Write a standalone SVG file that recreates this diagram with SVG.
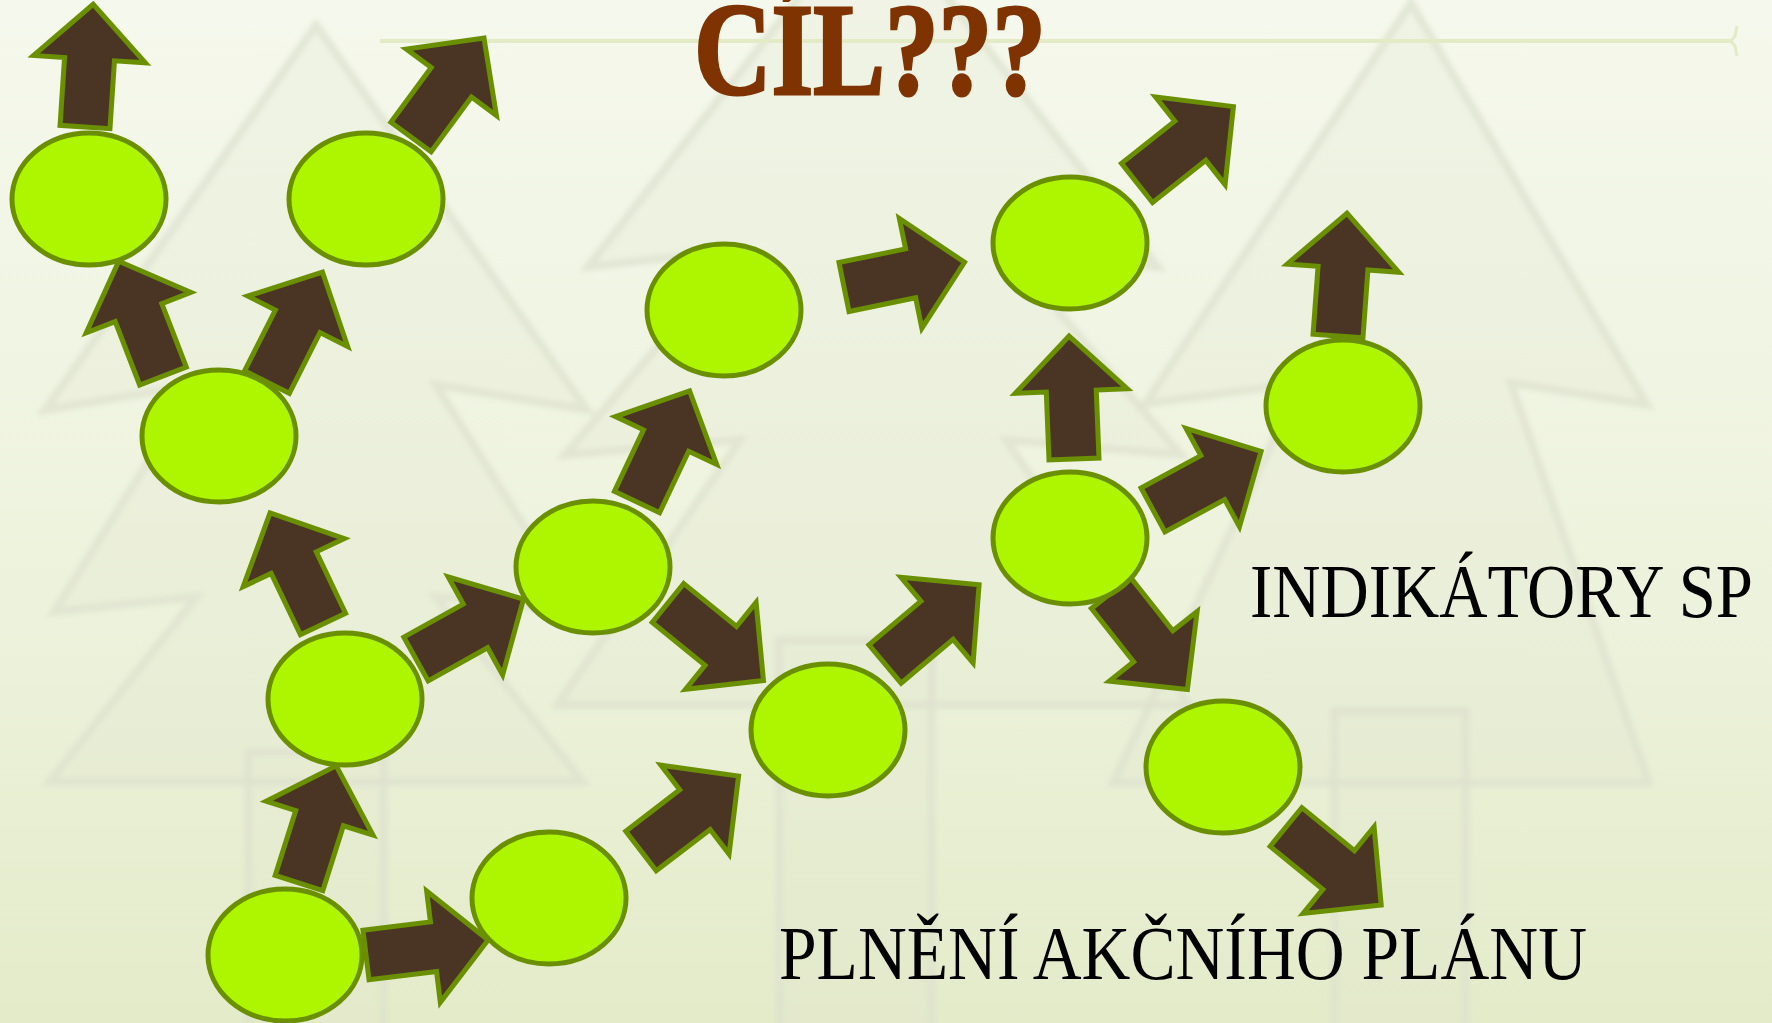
<svg xmlns="http://www.w3.org/2000/svg" xmlns:xlink="http://www.w3.org/1999/xlink" width="1772" height="1023" viewBox="0 0 1772 1023">
  <defs>
    <linearGradient id="bg" x1="0" y1="0" x2="0" y2="1">
      <stop offset="0" stop-color="#f5f8ec"/>
      <stop offset="0.6" stop-color="#edf2dc"/>
      <stop offset="1" stop-color="#e4ebc9"/>
    </linearGradient>
    <filter id="soft" x="-5%" y="-5%" width="110%" height="110%">
      <feGaussianBlur stdDeviation="2.5"/>
    </filter>
    <path id="arr" d="M0,-25 H68 V-56 L123,0 L68,56 V25 H0 Z"/>
  </defs>
  <style>
    .tree { fill: #dfe4cc; fill-opacity: 0.22; stroke: #dde2cf; stroke-opacity: 0.75; stroke-width: 8; stroke-linejoin: miter; }
    .node { fill: #adf600; stroke: #6a9000; stroke-width: 5; }
    .arrow { fill: #4a3524; stroke: #6a9000; stroke-width: 5; stroke-linejoin: miter; }
    .lbl { font-family: "Liberation Serif", "DejaVu Serif", serif; fill: #000000; }
    .title { font-family: "Liberation Serif", "DejaVu Serif", serif; font-weight: bold; fill: #7f3300; stroke: #7f3300; stroke-width: 3; }
  </style>

  <rect x="0" y="0" width="1772" height="1023" fill="url(#bg)"/>

  <g id="background-trees" filter="url(#soft)">
    <path class="tree" d="M316,25 L45,410 L196,385 L54,612 L196,597 L49,782 L583,782 L436,597 L578,612 L436,385 L587,410 Z"/>
    <rect class="tree" x="248" y="752" width="136" height="290"/>
    <path class="tree" d="M873,-98 L588,267 L740,250 L565,455 L740,440 L557,705 L1190,705 L1006,440 L1181,455 L1006,250 L1158,267 Z"/>
    <rect class="tree" x="779" y="640" width="153" height="400"/>
    <path class="tree" d="M1411,3 L1145,404 L1300,383 L1113,783 L1649,783 L1511,383 L1647,405 Z"/>
    <rect class="tree" x="1334" y="711" width="132" height="330"/>
  </g>
  <g id="top-rule">
    <path d="M380,41 H1731" stroke="#e3ebc6" stroke-width="4" fill="none"/>
    <path d="M1737,26 L1735,36 L1731,41 L1735,46 L1737,56" stroke="#e3ebc6" stroke-width="3" fill="none"/>
  </g>

  <g id="connectors">
    <use xlink:href="#arr" href="#arr" class="arrow" transform="translate(85,127) rotate(-86.2)"/>
    <use xlink:href="#arr" href="#arr" class="arrow" transform="translate(411,137) rotate(-53.6)"/>
    <use xlink:href="#arr" href="#arr" class="arrow" transform="translate(163,376) rotate(-111.1)"/>
    <use xlink:href="#arr" href="#arr" class="arrow" transform="translate(267,382) rotate(-63.2)"/>
    <use xlink:href="#arr" href="#arr" class="arrow" transform="translate(323,624) rotate(-115.5)"/>
    <use xlink:href="#arr" href="#arr" class="arrow" transform="translate(416,659) rotate(-29.1)"/>
    <use xlink:href="#arr" href="#arr" class="arrow" transform="translate(637,502) rotate(-64.7)"/>
    <use xlink:href="#arr" href="#arr" class="arrow" transform="translate(844,287) rotate(-11.6)"/>
    <use xlink:href="#arr" href="#arr" class="arrow" transform="translate(1137,183) rotate(-38.4)"/>
    <use xlink:href="#arr" href="#arr" class="arrow" transform="translate(1074,459) rotate(-92.3)"/>
    <use xlink:href="#arr" href="#arr" class="arrow" transform="translate(1338,336) rotate(-85.8)"/>
    <use xlink:href="#arr" href="#arr" class="arrow" transform="translate(1153,510) rotate(-28.5)"/>
    <use xlink:href="#arr" href="#arr" class="arrow" transform="translate(1111,593) rotate(51.6)"/>
    <use xlink:href="#arr" href="#arr" class="arrow" transform="translate(1286,827) rotate(39.3)"/>
    <use xlink:href="#arr" href="#arr" class="arrow" transform="translate(668,603) rotate(39.1)"/>
    <use xlink:href="#arr" href="#arr" class="arrow" transform="translate(885,664) rotate(-40.1)"/>
    <use xlink:href="#arr" href="#arr" class="arrow" transform="translate(641,851) rotate(-37.5)"/>
    <use xlink:href="#arr" href="#arr" class="arrow" transform="translate(299,883) rotate(-72.4)"/>
    <use xlink:href="#arr" href="#arr" class="arrow" transform="translate(366,955) rotate(-7.0)"/>
  </g>

  <g id="node-a"><ellipse class="node" cx="89" cy="199" rx="77" ry="66"/></g>
  <g id="node-b"><ellipse class="node" cx="366" cy="199" rx="77" ry="66"/></g>
  <g id="node-c"><ellipse class="node" cx="219" cy="436" rx="77" ry="66"/></g>
  <g id="node-d"><ellipse class="node" cx="724" cy="310" rx="77" ry="66"/></g>
  <g id="node-e"><ellipse class="node" cx="1070" cy="243" rx="77" ry="66"/></g>
  <g id="node-f"><ellipse class="node" cx="1343" cy="406" rx="77" ry="66"/></g>
  <g id="node-g"><ellipse class="node" cx="593" cy="567" rx="77" ry="66"/></g>
  <g id="node-h"><ellipse class="node" cx="1070" cy="538" rx="77" ry="66"/></g>
  <g id="node-i"><ellipse class="node" cx="345" cy="699" rx="77" ry="66"/></g>
  <g id="node-j"><ellipse class="node" cx="828" cy="730" rx="77" ry="66"/></g>
  <g id="node-k"><ellipse class="node" cx="1223" cy="767" rx="77" ry="66"/></g>
  <g id="node-l"><ellipse class="node" cx="285" cy="955" rx="77" ry="66"/></g>
  <g id="node-m"><ellipse class="node" cx="549" cy="898" rx="77" ry="66"/></g>

  <g id="title"><text class="title" x="694" y="94" font-size="132" textLength="352" lengthAdjust="spacingAndGlyphs">CÍL???</text></g>
  <g id="label-indikatory"><text class="lbl" x="1250" y="617" font-size="76" textLength="503" lengthAdjust="spacingAndGlyphs">INDIKÁTORY SP</text></g>
  <g id="label-plneni"><text class="lbl" x="779" y="979" font-size="76" textLength="808" lengthAdjust="spacingAndGlyphs">PLNĚNÍ AKČNÍHO PLÁNU</text></g>
</svg>
